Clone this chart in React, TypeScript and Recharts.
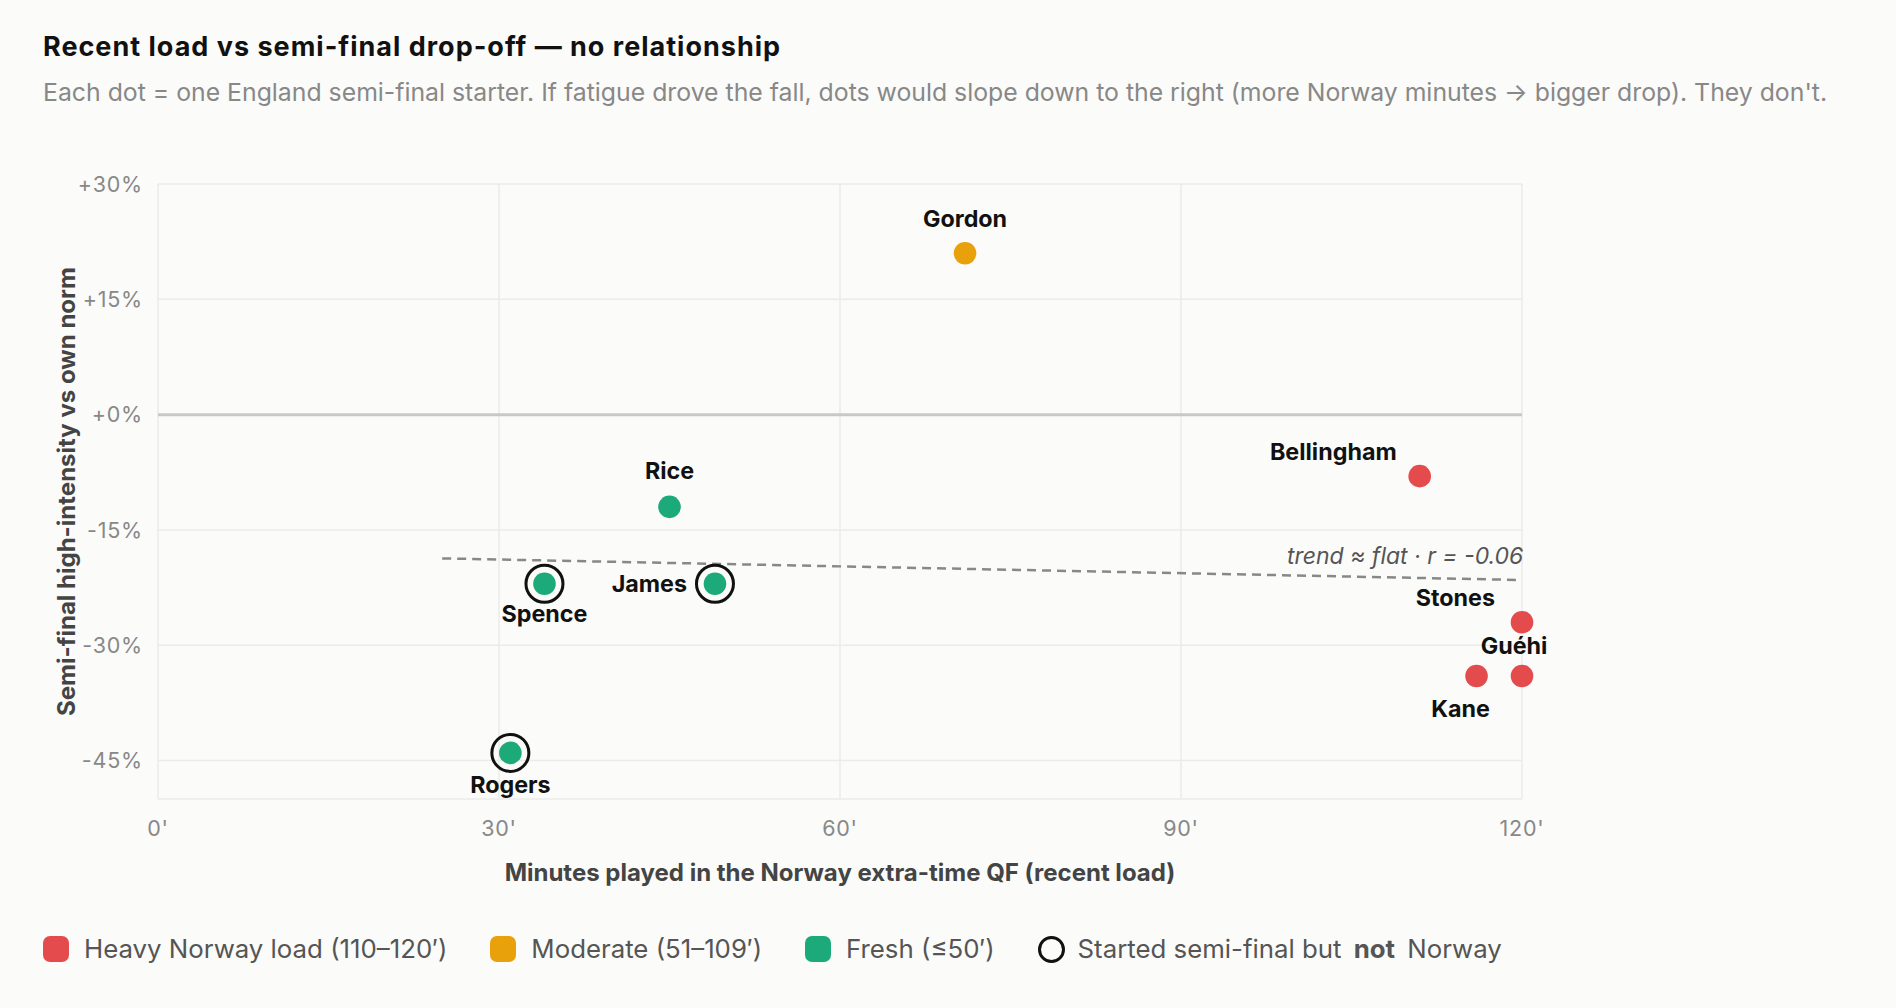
import React from 'react';
import {
  ScatterChart,
  Scatter,
  XAxis,
  YAxis,
  CartesianGrid,
  ReferenceLine,
  Label,
} from 'recharts';

const FONT = 'Inter, "Noto Sans", sans-serif';
const BG = '#fbfbf9';

// players: minutes in Norway QF vs semi-final change
const players = ['Gordon', 'Rice', 'Spence', 'James', 'Rogers', 'Bellingham', 'Stones', 'Guéhi', 'Kane'];
const minutes = [71, 45, 34, 49, 31, 111, 120, 120, 116];
const drop = [21, -12, -22, -22, -44, -8, -27, -34, -34];
const loadGroup = ['moderate', 'fresh', 'fresh', 'fresh', 'fresh', 'heavy', 'heavy', 'heavy', 'heavy'];
const notNorway = [false, false, true, true, true, false, false, false, false];

const trendX = [25, 119.5];
const trendY = [-18.7, -21.5];

const xTicks = [0, 30, 60, 90, 120];
const yTicks = [-45, -30, -15, 0, 15, 30];

const groupColors: Record<string, string> = {
  heavy: '#e34b4d',
  moderate: '#e9a10b',
  fresh: '#1caa7b',
};

// label placement per player: [dx, dy, anchor]
const labelSpots: Record<string, [number, number, string]> = {
  Gordon: [0, -35, 'middle'],
  Rice: [0, -36, 'middle'],
  Spence: [0, 30, 'middle'],
  James: [-28, 0, 'end'],
  Rogers: [0, 32, 'middle'],
  Bellingham: [-23, -25, 'end'],
  Stones: [-27, -25, 'end'],
  'Guéhi': [-8, -31, 'middle'],
  Kane: [-16, 32, 'middle'],
};

const playerData = players.map((name, i) => ({
  name,
  x: minutes[i],
  y: drop[i],
  group: loadGroup[i],
  ring: notNorway[i],
}));

const trendData = trendX.map((x, i) => ({ x, y: trendY[i] }));

const tickStyle = { fill: '#888', fontSize: 21.5, fontFamily: FONT, letterSpacing: 0.8 };

const PlayerDot = (props: any) => {
  const { cx, cy, payload } = props;
  const spot = labelSpots[payload.name] || [0, -35, 'middle'];
  return (
    <g>
      {payload.ring && (
        <circle cx={cx} cy={cy} r={18.5} fill="none" stroke="#111" strokeWidth={3} />
      )}
      <circle cx={cx} cy={cy} r={11.3} fill={groupColors[payload.group]} />
      <text
        x={cx + spot[0]}
        y={cy + spot[1]}
        textAnchor={spot[2] as any}
        dominantBaseline="central"
        fontFamily={FONT}
        fontSize={23.3}
        fontWeight={700}
        fill="#111"
      >
        {payload.name}
      </text>
    </g>
  );
};

const TrendEnd = (props: any) => {
  const { cx, cy, index } = props;
  if (index !== trendData.length - 1) return <g />;
  return (
    <text
      x={cx + 7}
      y={cy - 24}
      textAnchor="end"
      dominantBaseline="central"
      fontFamily={FONT}
      fontSize={23}
      fontStyle="italic"
      fill="#555"
    >
      trend ≈ flat · r = -0.06
    </text>
  );
};

const fmtPct = (v: number) => (v >= 0 ? `+${v}%` : `${v}%`);

const LegendSwatch = ({ color, text }: { color: string; text: string }) => (
  <div style={{ display: 'flex', alignItems: 'center', marginRight: 43 }}>
    <div style={{ width: 26, height: 26, borderRadius: 7, background: color, marginRight: 15 }} />
    <span>{text}</span>
  </div>
);

export default function App() {
  return (
    <div
      style={{
        position: 'absolute',
        left: 0,
        top: 0,
        width: 1896,
        height: 1008,
        background: BG,
        fontFamily: FONT,
        overflow: 'hidden',
      }}
    >
      <div
        style={{
          position: 'absolute',
          left: 43,
          top: 33,
          fontSize: 27,
          letterSpacing: 1,
          lineHeight: 1,
          fontWeight: 700,
          color: '#111',
          whiteSpace: 'nowrap',
        }}
      >
        Recent load vs semi-final drop-off — no relationship
      </div>
      <div
        style={{
          position: 'absolute',
          left: 43,
          top: 80,
          fontSize: 24.8,
          lineHeight: 1,
          color: '#888',
          whiteSpace: 'nowrap',
        }}
      >
        Each dot = one England semi-final starter. If fatigue drove the fall, dots would slope down to the right (more
        Norway minutes → bigger drop). They don't.
      </div>

      <div style={{ position: 'absolute', left: 0, top: 0 }}>
        <ScatterChart width={1896} height={1008} margin={{ top: 184, right: 374, bottom: 149, left: 58 }}>
          <CartesianGrid stroke="#ebebe8" strokeWidth={1.5} />
          <ReferenceLine y={0} stroke="#c8c8c4" strokeWidth={3} />
          <XAxis
            type="number"
            dataKey="x"
            domain={[0, 120]}
            ticks={xTicks}
            tickFormatter={(v: number) => `${v}'`}
            axisLine={false}
            tickLine={false}
            tickSize={6}
            tickMargin={16}
            height={60}
            tick={tickStyle}
          >
            <Label
              value="Minutes played in the Norway extra-time QF (recent load)"
              position="bottom"
              offset={5}
              style={{ fill: '#444', fontSize: 24, fontWeight: 700, fontFamily: FONT }}
            />
          </XAxis>
          <YAxis
            type="number"
            dataKey="y"
            domain={[-50, 30]}
            ticks={yTicks}
            tickFormatter={fmtPct}
            axisLine={false}
            tickLine={false}
            tickSize={6}
            tickMargin={9}
            width={100}
            tick={tickStyle}
          >
            <Label
              value="Semi-final high-intensity vs own norm"
              angle={-90}
              position="insideLeft"
              offset={8}
              style={{ fill: '#444', fontSize: 24, fontWeight: 700, fontFamily: FONT, textAnchor: 'middle' }}
            />
          </YAxis>
          <Scatter
            data={trendData}
            line={{ stroke: '#888', strokeWidth: 2.5, strokeDasharray: '9 6' }}
            shape={TrendEnd}
            isAnimationActive={false}
          />
          <Scatter data={playerData} shape={PlayerDot} isAnimationActive={false} />
        </ScatterChart>
      </div>

      <div
        style={{
          position: 'absolute',
          left: 43,
          top: 935,
          display: 'flex',
          alignItems: 'center',
          fontSize: 25.8,
          lineHeight: '28px',
          color: '#555',
          whiteSpace: 'nowrap',
        }}
      >
        <LegendSwatch color={groupColors.heavy} text="Heavy Norway load (110–120′)" />
        <LegendSwatch color={groupColors.moderate} text="Moderate (51–109′)" />
        <LegendSwatch color={groupColors.fresh} text="Fresh (≤50′)" />
        <div style={{ display: 'flex', alignItems: 'center' }}>
          <div
            style={{
              width: 21,
              height: 21,
              borderRadius: '50%',
              border: '3px solid #111',
              marginRight: 13,
            }}
          />
          <span>
            Started semi-final but <b style={{ margin: '0 5px' }}>not</b> Norway
          </span>
        </div>
      </div>
    </div>
  );
}
